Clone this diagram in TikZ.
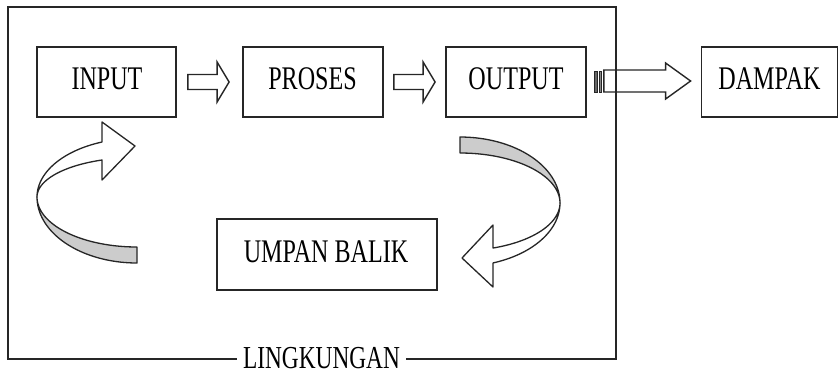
\documentclass[tikz,border=0pt]{standalone}
\usepackage{fontspec}
\setmainfont{Liberation Serif}[FakeStretch=0.73]
\usetikzlibrary{calc}
\definecolor{linecol}{HTML}{262626}
\definecolor{bandgray}{HTML}{CCCCCC}
\tikzset{
  box/.style={draw=linecol, line width=1.8pt, minimum width=#1, minimum height=70pt, inner sep=0pt, font=\fontsize{33}{36}\selectfont},
  box/.default=139pt,
  arrowline/.style={draw=linecol, line width=1.4pt, fill=white, line join=miter},
  band/.style={draw=linecol, line width=1.3pt, line join=round},
  framestyle/.style={draw=linecol, line width=1.8pt},
  lbl/.style={inner xsep=6pt, inner ysep=0pt, font=\fontsize{32}{34}\selectfont}
}
\newcommand\blockarr[5]{%
  \path[arrowline] let \p1=(#1), \p2=(#2) in
    (\x1,\y1+#3) -- (\x2-#5,\y1+#3) -- (\x2-#5,\y1+#4) -- (\x2,\y1)
    -- (\x2-#5,\y1-#4) -- (\x2-#5,\y1-#3) -- (\x1,\y1-#3) -- cycle;}
\begin{document}
\begin{tikzpicture}[x=1pt,y=-1pt]
\useasboundingbox (0,0) rectangle (840,376);
% nodes
\node[box] (input) at (106.5,82) {};
\node[font=\fontsize{33}{36}\selectfont, inner sep=0pt] at (107,79) {INPUT};
\node[box=140pt] (proses) at (313,82) {};
\node[font=\fontsize{33}{36}\selectfont, inner sep=0pt] at (312.5,79) {PROSES};
\node[box=140pt] (output) at (516,82) {};
\node[font=\fontsize{33}{36}\selectfont, inner sep=0pt] at (516,79) {OUTPUT};
\node[box=136pt] (dampak) at (769.5,82) {};
\node[font=\fontsize{33}{36}\selectfont, inner sep=0pt] at (769.5,79) {DAMPAK};
\node[box=220pt, minimum height=71pt] (umpan) at (327,254.5) {};
\node[font=\fontsize{33}{36}\selectfont, inner sep=0pt] at (326,252) {UMPAN BALIK};
\node[lbl] (lingkungan) at (321.5,358) {LINGKUNGAN};
% frame
\coordinate (frameBL) at (8,359);
\coordinate (frameBR) at (616,359);
\draw[framestyle, line join=miter] (lingkungan.west |- frameBL) -- (frameBL) -- (8,7) -- (616,7) -- (frameBR) -- (lingkungan.east |- frameBR);
% straight block arrows
\blockarr{$(input.east)+(11,0)$}{$(proses.west)+(-13,0)$}{7.5pt}{20pt}{12pt}
\blockarr{$(proses.east)+(10,0)$}{$(output.west)+(-10,0)$}{7.5pt}{20pt}{12pt}
% striped arrow output -> dampak
\filldraw[draw=linecol, fill=linecol!70, line width=0.8pt] ($(output.east)+(7,-11)$) rectangle ($(output.east)+(10,10)$);
\filldraw[draw=linecol, fill=linecol!55, line width=0.8pt] ($(output.east)+(12,-11)$) rectangle ($(output.east)+(14,10)$);
\blockarr{$(output.east)+(17,-1)$}{$(dampak.west)+(-10,-1)$}{11pt}{18pt}{25pt}
\draw[framestyle] (616,60) -- (616,100);
% curved arrow left (feedback into input)
\filldraw[band, fill=bandgray]
  plot[domain=90:180, samples=40] ({137+100*cos(\x)},{197+66*sin(\x)})
  -- plot[domain=180:90, samples=40] ({137+100*cos(\x)},{197+50*sin(\x)}) -- cycle;
\filldraw[band, fill=white]
  plot[domain=180:249.5, samples=40] ({137+100*cos(\x)},{197+58.7*sin(\x)})
  -- (102,122) -- (135,146) -- (102,180)
  -- plot[domain=249.5:180, samples=40] ({137+100*cos(\x)},{197+39.5*sin(\x)}) -- cycle;
% curved arrow right (output toward umpan balik)
\filldraw[band, fill=bandgray]
  plot[domain=270:360, samples=40] ({460+100*cos(\x)},{203+66*sin(\x)})
  -- plot[domain=360:270, samples=40] ({460+100*cos(\x)},{203+50*sin(\x)}) -- cycle;
\filldraw[band, fill=white]
  plot[domain=0:70.7, samples=40] ({460+100*cos(\x)},{203+63.5*sin(\x)})
  -- (493,287) -- (462,258) -- (493,225)
  -- plot[domain=70.7:0, samples=40] ({460+100*cos(\x)},{203+47.7*sin(\x)}) -- cycle;
\end{tikzpicture}
\end{document}
